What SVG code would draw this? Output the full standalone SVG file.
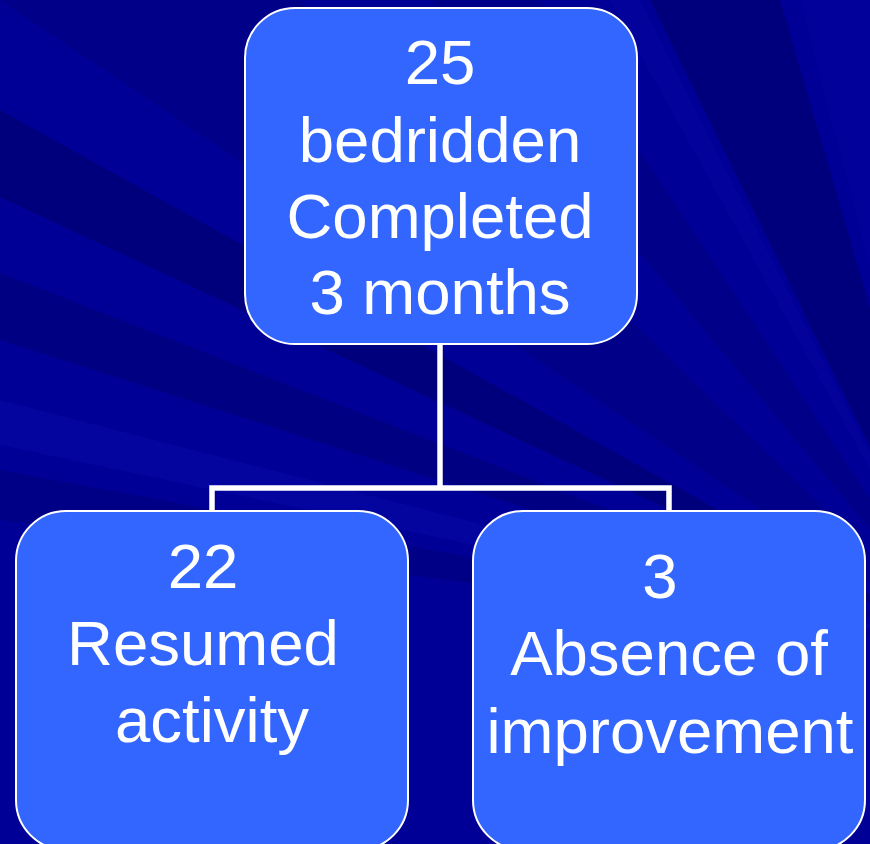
<svg xmlns="http://www.w3.org/2000/svg" width="870" height="844" viewBox="0 0 870 844">
  <defs>
    <style>
      .box { fill: #3366ff; stroke: #ffffff; stroke-width: 2; }
      .lbl { fill: #ffffff; font-family: "Liberation Sans", Arial, sans-serif; font-size: 63.5px; text-anchor: middle; }
      .conn { fill: none; stroke: #ffffff; stroke-width: 5.5; stroke-linejoin: miter; }
      .dark { fill: #00006a; }
      .light { fill: #0c0cb0; }
    </style>
  </defs>
  <g id="background">
    <rect x="0" y="0" width="870" height="844" fill="#000096"/>
    <polygon class="dark" opacity="0.3" points="970,650 0,0 300,0"/>
    <polygon class="dark" opacity="0.6" points="970,650 0,110 0,197"/>
    <polygon class="dark" opacity="0.45" points="970,650 0,273 0,340"/>
    <polygon class="dark" opacity="0.35" points="970,650 0,470 0,520"/>
    <polygon class="dark" opacity="0.55" points="970,650 650,0 780,0"/>
    <polygon class="dark" opacity="0.3" points="970,650 430,0 540,0"/>
    <polygon class="light" opacity="0.35" points="970,650 0,400 0,445"/>
    <polygon class="light" opacity="0.25" points="970,650 610,0 640,0"/>
    <polygon class="light" opacity="0.2" points="970,650 800,0 870,0 870,60"/>
  </g>
  <g id="connectors">
    <polyline class="conn" points="440,344 440,488"/>
    <polyline class="conn" points="212,511 212,488 669,488 669,511"/>
  </g>
  <g id="node-top">
    <rect class="box" x="245" y="8" width="392" height="336" rx="50" ry="50"/>
    <text class="lbl" x="440" y="84">25</text>
    <text class="lbl" x="440" y="162">bedridden</text>
    <text class="lbl" x="440" y="238">Completed</text>
    <text class="lbl" x="440" y="314">3 months</text>
  </g>
  <g id="node-left">
    <rect class="box" x="16" y="511" width="392" height="339" rx="50" ry="50"/>
    <text class="lbl" x="203" y="588">22</text>
    <text class="lbl" x="203" y="665">Resumed</text>
    <text class="lbl" x="212" y="742">activity</text>
  </g>
  <g id="node-right">
    <rect class="box" x="473" y="511" width="392" height="339" rx="50" ry="50"/>
    <text class="lbl" x="660" y="598">3</text>
    <text class="lbl" x="669" y="675">Absence of</text>
    <text class="lbl" x="670" y="753">improvement</text>
  </g>
</svg>
